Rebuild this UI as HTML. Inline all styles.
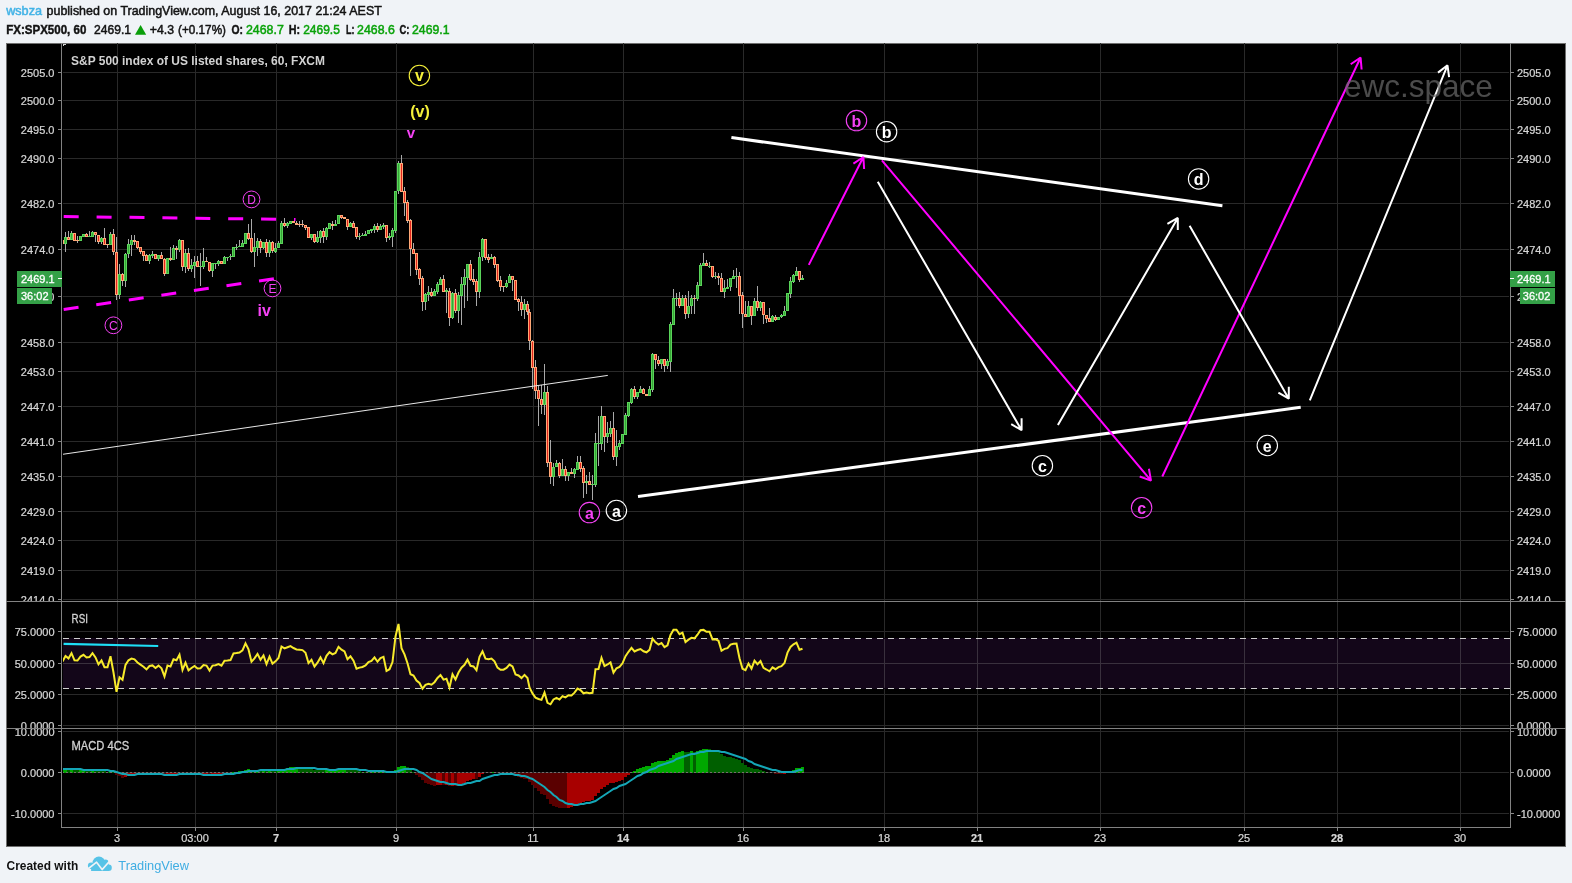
<!DOCTYPE html>
<html><head><meta charset="utf-8"><title>chart</title><style>html,body{margin:0;padding:0;background:#f0f3f7;overflow:hidden}body{width:1572px;height:883px}</style></head><body>
<svg width="1572" height="883" viewBox="0 0 1572 883" style="display:block;will-change:transform;font-family:'Liberation Sans',sans-serif">
<rect width="1572" height="883" fill="#f0f3f7"/>
<defs>
<clipPath id="cm"><rect x="63" y="43" width="1447" height="558"/></clipPath>
<clipPath id="cc"><rect x="63" y="43" width="1447" height="558"/></clipPath>
<clipPath id="cr"><rect x="63" y="602" width="1447" height="126"/></clipPath>
<clipPath id="cd"><rect x="63" y="729" width="1447" height="98"/></clipPath>
<clipPath id="lm"><rect x="6" y="43" width="1560" height="558"/></clipPath>
<clipPath id="lr"><rect x="6" y="602" width="1560" height="126"/></clipPath>
<clipPath id="ld"><rect x="6" y="729" width="1560" height="98"/></clipPath>
</defs>
<text x="6.2" y="15.3" textLength="35.8" lengthAdjust="spacingAndGlyphs" style="font-size:13px" fill="#42b3e6" stroke="#42b3e6" stroke-width="0.5">wsbza</text>
<text x="46.6" y="15.3" textLength="335.2" lengthAdjust="spacingAndGlyphs" style="font-size:13px" fill="#131313" stroke="#131313" stroke-width="0.5">published on TradingView.com, August 16, 2017 21:24 AEST</text>
<text x="6.2" y="33.6" textLength="80.1" lengthAdjust="spacingAndGlyphs" style="font-weight:bold;font-size:13px" fill="#131313" stroke="#131313" stroke-width="0.45">FX:SPX500, 60</text>
<text x="94" y="33.6" textLength="37.0" lengthAdjust="spacingAndGlyphs" style="font-size:13px" fill="#131313" stroke="#131313" stroke-width="0.5">2469.1</text>
<path d="M135 34.8 L140.6 24.9 L146.2 34.8 Z" fill="#0a9e0a"/>
<text x="149.8" y="33.6" textLength="24.2" lengthAdjust="spacingAndGlyphs" style="font-size:13px" fill="#131313" stroke="#131313" stroke-width="0.5">+4.3</text>
<text x="178" y="33.6" textLength="48.0" lengthAdjust="spacingAndGlyphs" style="font-size:13px" fill="#131313" stroke="#131313" stroke-width="0.5">(+0.17%)</text>
<text x="231.5" y="33.6" textLength="11.5" lengthAdjust="spacingAndGlyphs" style="font-weight:bold;font-size:13px" fill="#131313" stroke="#131313" stroke-width="0.45">O:</text>
<text x="246" y="33.6" textLength="37.8" lengthAdjust="spacingAndGlyphs" style="font-size:13px" fill="#0aa30a" stroke="#0aa30a" stroke-width="0.5">2468.7</text>
<text x="288.7" y="33.6" textLength="11.3" lengthAdjust="spacingAndGlyphs" style="font-weight:bold;font-size:13px" fill="#131313" stroke="#131313" stroke-width="0.45">H:</text>
<text x="303.2" y="33.6" textLength="36.6" lengthAdjust="spacingAndGlyphs" style="font-size:13px" fill="#0aa30a" stroke="#0aa30a" stroke-width="0.5">2469.5</text>
<text x="346" y="33.6" textLength="8.4" lengthAdjust="spacingAndGlyphs" style="font-weight:bold;font-size:13px" fill="#131313" stroke="#131313" stroke-width="0.45">L:</text>
<text x="357.1" y="33.6" textLength="37.7" lengthAdjust="spacingAndGlyphs" style="font-size:13px" fill="#0aa30a" stroke="#0aa30a" stroke-width="0.5">2468.6</text>
<text x="399.4" y="33.6" textLength="9.9" lengthAdjust="spacingAndGlyphs" style="font-weight:bold;font-size:13px" fill="#131313" stroke="#131313" stroke-width="0.45">C:</text>
<text x="412" y="33.6" textLength="37.5" lengthAdjust="spacingAndGlyphs" style="font-size:13px" fill="#0aa30a" stroke="#0aa30a" stroke-width="0.5">2469.1</text>
<rect x="6" y="43" width="1560" height="804" fill="#6e6e6e"/>
<rect x="7" y="44" width="1558" height="802" fill="#000"/>
<path d="M63 72.5H1509 M63 100.5H1509 M63 129.5H1509 M63 158.5H1509 M63 203.5H1509 M63 249.5H1509 M63 296.5H1509 M63 342.5H1509 M63 371.5H1509 M63 406.5H1509 M63 441.5H1509 M63 476.5H1509 M63 511.5H1509 M63 540.5H1509 M63 570.5H1509 M63 599.5H1509 M63 631.5H1509 M63 663.5H1509 M63 694.5H1509 M63 725.5H1509 M63 731.5H1509 M63 772.5H1509 M63 813.5H1509 M117.5 43V827 M195.5 43V827 M276.5 43V827 M396.5 43V827 M533.5 43V827 M623.5 43V827 M743.5 43V827 M884.5 43V827 M977.5 43V827 M1100.5 43V827 M1244.5 43V827 M1337.5 43V827 M1460.5 43V827" stroke="#292929" stroke-width="1" fill="none" shape-rendering="crispEdges"/>
<rect x="63" y="638" width="1447" height="51" fill="#130619"/>
<path d="M117.5 639V688 M195.5 639V688 M276.5 639V688 M396.5 639V688 M533.5 639V688 M623.5 639V688 M743.5 639V688 M884.5 639V688 M977.5 639V688 M1100.5 639V688 M1244.5 639V688 M1337.5 639V688 M1460.5 639V688 M63 663.5H1510" stroke="#39303d" stroke-width="1" fill="none" shape-rendering="crispEdges"/>
<path d="M63 638.5H1510M63 688.5H1510" stroke="#cfcfcf" stroke-width="1" stroke-dasharray="6 5" fill="none" shape-rendering="crispEdges"/>
<g clip-path="url(#cc)" shape-rendering="crispEdges">
<path d="M62.5 240V244 M65.5 232V252 M68.5 231V240 M71.5 231V240 M74.5 233V241 M77.5 236V243 M80.5 236V241 M83.5 234V237 M86.5 233V237 M89.5 231V237 M92.5 231V237 M95.5 232V242 M98.5 235V244 M101.5 237V244 M104.5 228V245 M107.5 244V248 M110.5 232V245 M113.5 229V255 M116.5 237V300 M119.5 264V299 M122.5 273V286 M125.5 253V287 M128.5 239V258 M131.5 235V256 M134.5 235V245 M137.5 241V249 M140.5 247V254 M143.5 251V261 M146.5 254V261 M149.5 254V264 M152.5 251V258 M155.5 254V259 M158.5 255V261 M161.5 252V259 M164.5 258V276 M167.5 258V274 M170.5 247V261 M173.5 245V260 M176.5 246V259 M179.5 239V252 M182.5 240V271 M185.5 249V273 M188.5 248V271 M191.5 259V272 M194.5 256V278 M197.5 256V267 M200.5 253V286 M203.5 248V269 M206.5 257V262 M209.5 262V272 M212.5 263V277 M215.5 263V269 M218.5 260V266 M221.5 261V264 M224.5 256V264 M227.5 257V261 M230.5 254V260 M233.5 247V257 M236.5 244V250 M239.5 240V247 M242.5 240V247 M245.5 233V244 M248.5 224V240 M251.5 219V253 M254.5 233V267 M257.5 238V256 M260.5 239V253 M263.5 242V249 M266.5 239V257 M269.5 240V257 M272.5 241V253 M275.5 243V253 M278.5 241V248 M281.5 221V244 M284.5 218V227 M287.5 222V228 M290.5 221V224 M293.5 221V223 M296.5 221V225 M299.5 221V227 M302.5 220V227 M305.5 225V230 M308.5 227V238 M311.5 234V240 M314.5 234V243 M317.5 231V243 M320.5 230V243 M323.5 228V243 M326.5 227V240 M329.5 223V229 M332.5 221V230 M335.5 220V226 M338.5 215V224 M341.5 215V219 M344.5 217V219 M347.5 219V230 M350.5 222V227 M353.5 221V228 M356.5 227V239 M359.5 233V240 M362.5 233V236 M365.5 231V236 M368.5 230V234 M371.5 229V233 M374.5 224V233 M377.5 223V232 M380.5 224V230 M383.5 223V229 M386.5 225V242 M389.5 233V240 M392.5 228V247 M395.5 191V233 M398.5 161V194 M401.5 155V192 M404.5 187V216 M407.5 200V223 M410.5 219V276 M413.5 243V254 M416.5 253V275 M419.5 268V285 M422.5 276V311 M425.5 293V310 M428.5 286V301 M431.5 288V297 M434.5 289V296 M437.5 282V294 M440.5 277V285 M443.5 275V292 M446.5 288V313 M449.5 288V326 M452.5 292V319 M455.5 289V313 M458.5 292V323 M461.5 277V325 M464.5 269V308 M467.5 264V301 M470.5 260V281 M473.5 269V285 M476.5 279V306 M479.5 252V298 M482.5 238V261 M485.5 239V260 M488.5 254V263 M491.5 254V259 M494.5 256V268 M497.5 264V282 M500.5 276V291 M503.5 286V292 M506.5 280V288 M509.5 274V283 M512.5 276V291 M515.5 280V300 M518.5 298V311 M521.5 296V316 M524.5 299V319 M527.5 301V315 M529.5 309V350 M532.5 340V389 M535.5 360V399 M538.5 386V426 M541.5 385V414 M544.5 364V415 M547.5 386V467 M550.5 440V484 M553.5 463V486 M556.5 460V467 M559.5 462V478 M562.5 459V476 M565.5 466V481 M568.5 472V481 M571.5 468V474 M574.5 468V478 M577.5 456V470 M580.5 456V472 M583.5 466V498 M586.5 475V494 M589.5 472V485 M592.5 475V500 M595.5 433V487 M598.5 416V466 M601.5 406V450 M604.5 416V452 M607.5 422V443 M610.5 421V437 M613.5 412V460 M616.5 430V466 M619.5 440V450 M622.5 434V444 M625.5 413V435 M628.5 402V417 M631.5 388V404 M634.5 386V399 M637.5 392V399 M640.5 386V393 M643.5 388V394 M646.5 394V396 M649.5 386V396 M652.5 353V392 M655.5 354V369 M658.5 356V366 M661.5 359V369 M664.5 359V372 M667.5 359V369 M670.5 322V372 M673.5 289V325 M676.5 293V306 M679.5 292V308 M682.5 295V306 M685.5 295V319 M688.5 291V318 M691.5 295V314 M694.5 295V314 M697.5 282V301 M700.5 263V286 M703.5 253V266 M706.5 260V266 M709.5 262V268 M712.5 266V278 M715.5 272V279 M718.5 273V285 M721.5 273V292 M724.5 280V298 M727.5 279V289 M730.5 278V291 M733.5 270V279 M736.5 268V288 M739.5 272V314 M742.5 292V328 M745.5 301V317 M748.5 301V317 M751.5 306V325 M754.5 298V316 M757.5 286V311 M760.5 301V311 M763.5 302V324 M766.5 315V323 M769.5 308V322 M772.5 315V322 M775.5 315V321 M778.5 317V320 M781.5 314V318 M784.5 306V316 M787.5 293V311 M790.5 277V298 M793.5 274V283 M796.5 267V276 M799.5 271V282 M802.5 275V280" stroke="#a9a9a9" stroke-width="1" fill="none"/>
<path d="M64 237h3v7h-3zM70 233h3v7h-3zM79 236h3v5h-3zM82 234h3v3h-3zM88 236h3v1h-3zM91 232h3v5h-3zM100 238h3v4h-3zM109 234h3v11h-3zM118 274h3v21h-3zM124 254h3v27h-3zM127 244h3v10h-3zM130 240h3v5h-3zM148 255h3v6h-3zM151 254h3v2h-3zM157 255h3v4h-3zM166 258h3v16h-3zM172 248h3v12h-3zM178 240h3v10h-3zM184 253h3v14h-3zM190 265h3v4h-3zM193 262h3v4h-3zM199 266h3v1h-3zM202 261h3v6h-3zM211 263h3v8h-3zM214 263h3v1h-3zM217 261h3v3h-3zM223 257h3v7h-3zM226 257h3v1h-3zM229 256h3v1h-3zM232 247h3v10h-3zM235 247h3v1h-3zM238 246h3v1h-3zM241 243h3v4h-3zM244 233h3v11h-3zM253 247h3v5h-3zM256 241h3v7h-3zM262 242h3v6h-3zM268 242h3v11h-3zM274 248h3v4h-3zM277 243h3v5h-3zM280 223h3v21h-3zM286 223h3v3h-3zM289 221h3v3h-3zM310 234h3v4h-3zM316 237h3v5h-3zM319 231h3v7h-3zM325 228h3v9h-3zM328 223h3v6h-3zM334 224h3v2h-3zM337 215h3v9h-3zM349 223h3v4h-3zM358 236h3v1h-3zM361 235h3v1h-3zM364 234h3v2h-3zM367 230h3v4h-3zM370 229h3v2h-3zM373 226h3v4h-3zM379 226h3v4h-3zM382 225h3v2h-3zM388 236h3v2h-3zM391 230h3v7h-3zM394 191h3v40h-3zM397 163h3v28h-3zM424 294h3v8h-3zM427 292h3v3h-3zM433 291h3v5h-3zM436 284h3v8h-3zM439 279h3v6h-3zM445 290h3v2h-3zM451 293h3v25h-3zM457 295h3v16h-3zM460 284h3v12h-3zM463 277h3v8h-3zM466 264h3v14h-3zM478 257h3v35h-3zM481 239h3v18h-3zM490 257h3v2h-3zM505 283h3v4h-3zM508 276h3v7h-3zM523 304h3v6h-3zM543 392h3v13h-3zM552 467h3v10h-3zM555 463h3v4h-3zM561 469h3v7h-3zM567 472h3v4h-3zM573 469h3v5h-3zM576 462h3v8h-3zM585 481h3v2h-3zM591 484h3v1h-3zM594 443h3v42h-3zM597 443h3v1h-3zM600 416h3v28h-3zM606 433h3v4h-3zM609 428h3v6h-3zM615 446h3v11h-3zM618 443h3v4h-3zM621 434h3v10h-3zM624 415h3v20h-3zM627 402h3v14h-3zM630 389h3v14h-3zM636 392h3v5h-3zM639 389h3v4h-3zM648 389h3v7h-3zM651 354h3v36h-3zM660 359h3v5h-3zM666 361h3v5h-3zM669 324h3v38h-3zM672 298h3v27h-3zM675 298h3v1h-3zM681 298h3v8h-3zM687 306h3v8h-3zM690 298h3v8h-3zM696 285h3v14h-3zM699 265h3v21h-3zM702 263h3v3h-3zM708 266h3v1h-3zM714 276h3v1h-3zM723 288h3v4h-3zM726 287h3v2h-3zM729 278h3v9h-3zM732 276h3v3h-3zM735 276h3v1h-3zM747 306h3v11h-3zM753 301h3v15h-3zM759 302h3v6h-3zM771 316h3v6h-3zM777 317h3v3h-3zM780 315h3v2h-3zM783 311h3v5h-3zM786 293h3v18h-3zM789 281h3v13h-3zM792 275h3v7h-3zM795 271h3v5h-3zM801 278h3v2h-3z" fill="#5ad45a"/>
<path d="M65 238h1v5h-1zM71 234h1v5h-1zM80 237h1v3h-1zM83 235h1v1h-1zM92 233h1v3h-1zM101 239h1v2h-1zM110 235h1v9h-1zM119 275h1v19h-1zM125 255h1v25h-1zM128 245h1v8h-1zM131 241h1v3h-1zM149 256h1v4h-1zM158 256h1v2h-1zM167 259h1v14h-1zM173 249h1v10h-1zM179 241h1v8h-1zM185 254h1v12h-1zM191 266h1v2h-1zM194 263h1v2h-1zM203 262h1v4h-1zM212 264h1v6h-1zM218 262h1v1h-1zM224 258h1v5h-1zM233 248h1v8h-1zM242 244h1v2h-1zM245 234h1v9h-1zM254 248h1v3h-1zM257 242h1v5h-1zM263 243h1v4h-1zM269 243h1v9h-1zM275 249h1v2h-1zM278 244h1v3h-1zM281 224h1v19h-1zM287 224h1v1h-1zM290 222h1v1h-1zM311 235h1v2h-1zM317 238h1v3h-1zM320 232h1v5h-1zM326 229h1v7h-1zM329 224h1v4h-1zM338 216h1v7h-1zM350 224h1v2h-1zM368 231h1v2h-1zM374 227h1v2h-1zM380 227h1v2h-1zM392 231h1v5h-1zM395 192h1v38h-1zM398 164h1v26h-1zM425 295h1v6h-1zM428 293h1v1h-1zM434 292h1v3h-1zM437 285h1v6h-1zM440 280h1v4h-1zM452 294h1v23h-1zM458 296h1v14h-1zM461 285h1v10h-1zM464 278h1v6h-1zM467 265h1v12h-1zM479 258h1v33h-1zM482 240h1v16h-1zM506 284h1v2h-1zM509 277h1v5h-1zM524 305h1v4h-1zM544 393h1v11h-1zM553 468h1v8h-1zM556 464h1v2h-1zM562 470h1v5h-1zM568 473h1v2h-1zM574 470h1v3h-1zM577 463h1v6h-1zM595 444h1v40h-1zM601 417h1v26h-1zM607 434h1v2h-1zM610 429h1v4h-1zM616 447h1v9h-1zM619 444h1v2h-1zM622 435h1v8h-1zM625 416h1v18h-1zM628 403h1v12h-1zM631 390h1v12h-1zM637 393h1v3h-1zM640 390h1v2h-1zM649 390h1v5h-1zM652 355h1v34h-1zM661 360h1v3h-1zM667 362h1v3h-1zM670 325h1v36h-1zM673 299h1v25h-1zM682 299h1v6h-1zM688 307h1v6h-1zM691 299h1v6h-1zM697 286h1v12h-1zM700 266h1v19h-1zM703 264h1v1h-1zM724 289h1v2h-1zM730 279h1v7h-1zM733 277h1v1h-1zM748 307h1v9h-1zM754 302h1v13h-1zM760 303h1v4h-1zM772 317h1v4h-1zM778 318h1v1h-1zM784 312h1v3h-1zM787 294h1v16h-1zM790 282h1v11h-1zM793 276h1v5h-1zM796 272h1v3h-1z" fill="#36a636"/>
<path d="M61 240h3v4h-3zM67 237h3v3h-3zM73 233h3v8h-3zM76 240h3v1h-3zM85 234h3v3h-3zM94 232h3v3h-3zM97 235h3v7h-3zM103 238h3v7h-3zM106 244h3v1h-3zM112 234h3v18h-3zM115 252h3v43h-3zM121 274h3v7h-3zM133 240h3v2h-3zM136 241h3v7h-3zM139 247h3v5h-3zM142 251h3v5h-3zM145 255h3v6h-3zM154 254h3v5h-3zM160 255h3v4h-3zM163 259h3v15h-3zM169 258h3v2h-3zM175 248h3v2h-3zM181 240h3v27h-3zM187 253h3v16h-3zM196 261h3v6h-3zM205 261h3v1h-3zM208 262h3v9h-3zM220 261h3v3h-3zM247 233h3v6h-3zM250 238h3v14h-3zM259 241h3v7h-3zM265 242h3v11h-3zM271 242h3v9h-3zM283 223h3v3h-3zM292 221h3v2h-3zM295 223h3v2h-3zM298 224h3v1h-3zM301 224h3v1h-3zM304 225h3v3h-3zM307 227h3v11h-3zM313 234h3v8h-3zM322 231h3v6h-3zM331 224h3v2h-3zM340 215h3v3h-3zM343 217h3v2h-3zM346 219h3v8h-3zM352 223h3v5h-3zM355 227h3v10h-3zM376 226h3v4h-3zM385 225h3v13h-3zM400 163h3v29h-3zM403 191h3v12h-3zM406 202h3v19h-3zM409 220h3v29h-3zM412 249h3v5h-3zM415 253h3v17h-3zM418 269h3v10h-3zM421 278h3v24h-3zM430 292h3v4h-3zM442 279h3v13h-3zM448 291h3v27h-3zM454 293h3v18h-3zM469 264h3v16h-3zM472 279h3v3h-3zM475 281h3v11h-3zM484 239h3v19h-3zM487 257h3v3h-3zM493 257h3v8h-3zM496 264h3v17h-3zM499 280h3v7h-3zM502 286h3v1h-3zM511 276h3v4h-3zM514 280h3v20h-3zM517 299h3v3h-3zM520 302h3v8h-3zM526 304h3v8h-3zM528 312h3v29h-3zM531 341h3v27h-3zM534 367h3v24h-3zM537 390h3v9h-3zM540 399h3v6h-3zM546 392h3v71h-3zM549 462h3v15h-3zM558 463h3v13h-3zM564 469h3v7h-3zM570 472h3v2h-3zM579 462h3v7h-3zM582 468h3v15h-3zM588 481h3v4h-3zM603 416h3v21h-3zM612 428h3v29h-3zM633 389h3v8h-3zM642 389h3v5h-3zM645 394h3v2h-3zM654 354h3v6h-3zM657 360h3v4h-3zM663 359h3v7h-3zM678 298h3v8h-3zM684 298h3v16h-3zM693 298h3v1h-3zM705 263h3v3h-3zM711 266h3v11h-3zM717 276h3v2h-3zM720 278h3v14h-3zM738 276h3v20h-3zM741 295h3v19h-3zM744 314h3v3h-3zM750 306h3v10h-3zM756 301h3v7h-3zM762 302h3v13h-3zM765 315h3v4h-3zM768 318h3v4h-3zM774 317h3v3h-3zM798 271h3v9h-3z" fill="#ffa877"/>
<path d="M62 241h1v2h-1zM68 238h1v1h-1zM74 234h1v6h-1zM86 235h1v1h-1zM95 233h1v1h-1zM98 236h1v5h-1zM104 239h1v5h-1zM113 235h1v16h-1zM116 253h1v41h-1zM122 275h1v5h-1zM137 242h1v5h-1zM140 248h1v3h-1zM143 252h1v3h-1zM146 256h1v4h-1zM155 255h1v3h-1zM161 256h1v2h-1zM164 260h1v13h-1zM182 241h1v25h-1zM188 254h1v14h-1zM197 262h1v4h-1zM209 263h1v7h-1zM221 262h1v1h-1zM248 234h1v4h-1zM251 239h1v12h-1zM260 242h1v5h-1zM266 243h1v9h-1zM272 243h1v7h-1zM284 224h1v1h-1zM305 226h1v1h-1zM308 228h1v9h-1zM314 235h1v6h-1zM323 232h1v4h-1zM341 216h1v1h-1zM347 220h1v6h-1zM353 224h1v3h-1zM356 228h1v8h-1zM377 227h1v2h-1zM386 226h1v11h-1zM401 164h1v27h-1zM404 192h1v10h-1zM407 203h1v17h-1zM410 221h1v27h-1zM413 250h1v3h-1zM416 254h1v15h-1zM419 270h1v8h-1zM422 279h1v22h-1zM431 293h1v2h-1zM443 280h1v11h-1zM449 292h1v25h-1zM455 294h1v16h-1zM470 265h1v14h-1zM473 280h1v1h-1zM476 282h1v9h-1zM485 240h1v17h-1zM488 258h1v1h-1zM494 258h1v6h-1zM497 265h1v15h-1zM500 281h1v5h-1zM512 277h1v2h-1zM515 281h1v18h-1zM518 300h1v1h-1zM521 303h1v6h-1zM527 305h1v6h-1zM529 313h1v27h-1zM532 342h1v25h-1zM535 368h1v22h-1zM538 391h1v7h-1zM541 400h1v4h-1zM547 393h1v69h-1zM550 463h1v13h-1zM559 464h1v11h-1zM565 470h1v5h-1zM580 463h1v5h-1zM583 469h1v13h-1zM589 482h1v2h-1zM604 417h1v19h-1zM613 429h1v27h-1zM634 390h1v6h-1zM643 390h1v3h-1zM655 355h1v4h-1zM658 361h1v2h-1zM664 360h1v5h-1zM679 299h1v6h-1zM685 299h1v14h-1zM706 264h1v1h-1zM712 267h1v9h-1zM721 279h1v12h-1zM739 277h1v18h-1zM742 296h1v17h-1zM745 315h1v1h-1zM751 307h1v8h-1zM757 302h1v5h-1zM763 303h1v11h-1zM766 316h1v2h-1zM769 319h1v2h-1zM775 318h1v1h-1zM799 272h1v7h-1z" fill="#e2241b"/>
</g>
<g clip-path="url(#cm)" fill="none">
<path d="M62 454.4L607.8 375.4" stroke="#e8e8e8" stroke-width="1"/>
<path d="M63.7 216.5L295.5 219.55" stroke="#ff00ff" stroke-width="3" stroke-dasharray="15 17.9"/>
<path d="M63.7 309.4L274.1 278.7" stroke="#ff00ff" stroke-width="3" stroke-dasharray="15 17.9"/>
<path d="M731.4 137.6L1222.4 205.7" stroke="#fff" stroke-width="3"/>
<path d="M638 496.5L1300.7 407.3" stroke="#fff" stroke-width="3"/>
<path d="M808.8 264.9L863.4 157M864.1 169.0L863.4 157L853.4 163.6" stroke="#ff00ff" stroke-width="2" stroke-linejoin="bevel"/>
<path d="M881.9 160.3L1151 480.6M1139.7 476.5L1151 480.6L1148.9 468.8" stroke="#ff00ff" stroke-width="2" stroke-linejoin="bevel"/>
<path d="M1162.3 476.5L1360.6 57.5M1361.6 69.5L1360.6 57.5L1350.7 64.3" stroke="#ff00ff" stroke-width="2" stroke-linejoin="bevel"/>
<path d="M877.8 181.8L1021.6 430.2M1011.2 424.2L1021.6 430.2L1021.6 418.2" stroke="#fff" stroke-width="2" stroke-linejoin="bevel"/>
<path d="M1057.9 425L1177.8 217.9M1177.8 229.9L1177.8 217.9L1167.4 223.9" stroke="#fff" stroke-width="2" stroke-linejoin="bevel"/>
<path d="M1189.6 225.7L1288.8 398.7M1278.4 392.7L1288.8 398.7L1288.8 386.7" stroke="#fff" stroke-width="2" stroke-linejoin="bevel"/>
<path d="M1309.8 400.4L1447.5 65.3M1449.1 77.2L1447.5 65.3L1438.0 72.6" stroke="#fff" stroke-width="2" stroke-linejoin="bevel"/>
</g>
<text x="1344" y="96.7" style="font-size:31.5px" fill="#6b6b6b" fill-opacity="0.7">ewc.space</text>
<circle cx="419.4" cy="75.5" r="10.2" fill="none" stroke="#f5f03a" stroke-width="1.1"/>
<text x="419.4" y="81.4" text-anchor="middle" style="font-weight:bold;font-size:16px" fill="#f5f03a">v</text>
<text x="420" y="116.9" text-anchor="middle" style="font-weight:bold;font-size:16px" fill="#f5f03a">(v)</text>
<text x="410.9" y="137.9" text-anchor="middle" style="font-weight:bold;font-size:15px" fill="#f542f5">v</text>
<text x="264.2" y="315.8" text-anchor="middle" style="font-weight:bold;font-size:16px" fill="#f542f5">iv</text>
<circle cx="251.5" cy="199.4" r="8.4" fill="none" stroke="#f542f5" stroke-width="1.0"/>
<text x="251.5" y="203.70000000000002" text-anchor="middle" style="font-size:12px" fill="#f542f5">D</text>
<circle cx="272.5" cy="288.4" r="8.4" fill="none" stroke="#f542f5" stroke-width="1.0"/>
<text x="272.5" y="292.7" text-anchor="middle" style="font-size:12px" fill="#f542f5">E</text>
<circle cx="113.4" cy="325.3" r="8.4" fill="none" stroke="#f542f5" stroke-width="1.0"/>
<text x="113.4" y="329.6" text-anchor="middle" style="font-size:12px" fill="#f542f5">C</text>
<circle cx="589.4" cy="512.6" r="10.2" fill="none" stroke="#f542f5" stroke-width="1.1"/>
<text x="589.4" y="518.6" text-anchor="middle" style="font-weight:bold;font-size:16px" fill="#f542f5">a</text>
<circle cx="616.4" cy="510.5" r="10.2" fill="none" stroke="#fff" stroke-width="1.1"/>
<text x="616.4" y="516.5" text-anchor="middle" style="font-weight:bold;font-size:16px" fill="#fff">a</text>
<circle cx="856.5" cy="120.6" r="10.2" fill="none" stroke="#f542f5" stroke-width="1.1"/>
<text x="856.5" y="126.69999999999999" text-anchor="middle" style="font-weight:bold;font-size:16px" fill="#f542f5">b</text>
<circle cx="886.6" cy="131.7" r="10.2" fill="none" stroke="#fff" stroke-width="1.1"/>
<text x="886.6" y="137.79999999999998" text-anchor="middle" style="font-weight:bold;font-size:16px" fill="#fff">b</text>
<circle cx="1042.4" cy="465.7" r="10.2" fill="none" stroke="#fff" stroke-width="1.1"/>
<text x="1042.4" y="471.7" text-anchor="middle" style="font-weight:bold;font-size:16px" fill="#fff">c</text>
<circle cx="1141.6" cy="507.7" r="10.2" fill="none" stroke="#f542f5" stroke-width="1.1"/>
<text x="1141.6" y="513.7" text-anchor="middle" style="font-weight:bold;font-size:16px" fill="#f542f5">c</text>
<circle cx="1198.6" cy="178.9" r="10.2" fill="none" stroke="#fff" stroke-width="1.1"/>
<text x="1198.6" y="185.0" text-anchor="middle" style="font-weight:bold;font-size:16px" fill="#fff">d</text>
<circle cx="1267.3" cy="445.5" r="10.2" fill="none" stroke="#fff" stroke-width="1.1"/>
<text x="1267.3" y="451.5" text-anchor="middle" style="font-weight:bold;font-size:16px" fill="#fff">e</text>
<text x="71" y="65.4" textLength="254.0" lengthAdjust="spacingAndGlyphs" style="font-weight:bold;font-size:12.6px" fill="#d2d2d2" stroke="#d2d2d2" stroke-width="0">S&amp;P 500 index of US listed shares, 60, FXCM</text>
<text x="71.6" y="622.7" textLength="16.4" lengthAdjust="spacingAndGlyphs" style="font-size:12px" fill="#d2d2d2" stroke="#d2d2d2" stroke-width="0.3">RSI</text>
<text x="71.5" y="749.8" textLength="57.7" lengthAdjust="spacingAndGlyphs" style="font-size:12px" fill="#d2d2d2" stroke="#d2d2d2" stroke-width="0.3">MACD 4CS</text>
<g clip-path="url(#cr)" fill="none">
<polyline points="62.5,661.4 65.5,656.0 68.5,658.4 71.5,653.2 74.5,660.3 77.5,660.5 80.5,656.6 83.5,654.8 86.5,657.5 89.5,657.0 92.5,653.2 95.5,657.4 98.5,664.3 101.5,660.5 104.5,667.2 107.5,667.3 110.5,656.2 113.5,672.5 116.5,691.9 119.5,677.3 122.5,679.8 125.5,664.9 128.5,660.3 131.5,658.6 134.5,659.4 137.5,662.5 140.5,664.6 143.5,666.7 146.5,669.4 149.5,666.0 152.5,665.4 155.5,668.0 158.5,665.6 161.5,668.3 164.5,676.4 167.5,665.6 170.5,666.5 173.5,659.3 176.5,660.2 179.5,654.6 182.5,670.0 185.5,662.7 188.5,670.3 191.5,668.0 194.5,665.9 197.5,668.4 200.5,668.2 203.5,665.1 206.5,665.6 209.5,670.6 212.5,665.6 215.5,665.3 218.5,664.1 221.5,665.7 224.5,660.8 227.5,660.6 230.5,660.1 233.5,653.4 236.5,653.1 239.5,652.6 242.5,650.4 245.5,643.3 248.5,649.4 251.5,661.7 254.5,658.4 257.5,653.9 260.5,659.7 263.5,655.4 266.5,664.1 269.5,656.6 272.5,663.6 275.5,661.3 278.5,658.0 281.5,646.5 284.5,648.4 287.5,647.2 290.5,646.1 293.5,648.0 296.5,649.4 299.5,649.7 302.5,650.1 305.5,652.7 308.5,663.1 311.5,659.8 314.5,666.6 317.5,662.7 320.5,657.4 323.5,663.1 326.5,655.8 329.5,652.1 332.5,654.4 335.5,652.9 338.5,646.8 341.5,649.7 344.5,651.5 347.5,659.3 350.5,656.4 353.5,660.6 356.5,668.8 359.5,667.6 362.5,667.0 365.5,665.5 368.5,662.1 371.5,660.8 374.5,657.4 377.5,661.7 380.5,658.1 383.5,656.8 386.5,671.0 389.5,669.2 392.5,662.1 395.5,636.4 398.5,623.9 401.5,648.1 404.5,654.4 407.5,663.3 410.5,674.2 413.5,675.5 416.5,680.5 419.5,683.0 422.5,688.7 425.5,684.9 428.5,683.8 431.5,684.7 434.5,682.2 437.5,678.0 440.5,675.0 443.5,679.6 446.5,678.7 449.5,687.5 452.5,674.2 455.5,679.5 458.5,672.5 461.5,667.7 464.5,664.8 467.5,659.7 470.5,665.8 473.5,666.4 476.5,670.2 479.5,656.8 482.5,651.3 485.5,658.6 488.5,659.3 491.5,658.5 494.5,661.4 497.5,667.6 500.5,669.7 503.5,669.7 506.5,667.9 509.5,664.6 512.5,666.5 515.5,674.4 518.5,675.5 521.5,678.1 524.5,674.9 527.5,678.0 529.5,687.4 532.5,693.4 535.5,697.6 538.5,699.0 541.5,699.9 544.5,692.6 547.5,702.9 550.5,704.3 553.5,699.4 556.5,697.8 559.5,699.5 562.5,696.2 565.5,697.4 568.5,695.2 571.5,695.4 574.5,692.7 577.5,688.6 580.5,690.1 583.5,693.3 586.5,692.5 589.5,693.3 592.5,692.8 595.5,669.2 598.5,669.0 601.5,657.9 604.5,666.1 607.5,664.5 610.5,662.4 613.5,672.6 616.5,668.3 619.5,667.0 622.5,663.3 625.5,656.2 628.5,651.8 631.5,647.9 634.5,651.4 637.5,650.0 640.5,649.0 643.5,651.3 646.5,652.3 649.5,649.9 652.5,638.7 655.5,642.3 658.5,644.6 661.5,643.0 664.5,647.2 667.5,645.4 670.5,635.0 673.5,629.8 676.5,629.7 679.5,634.2 682.5,632.6 685.5,642.0 688.5,639.6 691.5,637.8 694.5,638.3 697.5,634.7 700.5,630.2 703.5,629.8 706.5,631.8 709.5,631.7 712.5,639.4 715.5,639.2 718.5,640.8 721.5,650.8 724.5,648.9 727.5,648.2 730.5,644.6 733.5,643.7 736.5,643.5 739.5,658.2 742.5,668.7 745.5,670.1 748.5,663.6 751.5,668.6 754.5,660.6 757.5,664.2 760.5,661.1 763.5,667.9 766.5,669.5 769.5,671.3 772.5,667.4 775.5,669.2 778.5,667.1 781.5,666.2 784.5,663.0 787.5,652.6 790.5,647.0 793.5,644.3 796.5,642.6 799.5,649.8 802.5,648.7" stroke="#f7ea2b" stroke-width="2" stroke-linejoin="miter"/>
<path d="M63.6 643.8L158.2 646" stroke="#1edff7" stroke-width="2.2"/>
</g>
<g clip-path="url(#cd)">
<path d="M61 769.9h3V772.5h-3zM64 769.8h3V772.5h-3zM70 769.5h3V772.5h-3zM79 769.9h3V772.5h-3zM82 769.8h3V772.5h-3zM91 769.8h3V772.5h-3zM109 771.2h3V772.5h-3zM232 772.4h3V772.5h-3zM235 771.7h3V772.5h-3zM238 771.2h3V772.5h-3zM241 770.7h3V772.5h-3zM244 769.7h3V772.5h-3zM247 769.2h3V772.5h-3zM256 769.6h3V772.5h-3zM262 769.7h3V772.5h-3zM268 770.1h3V772.5h-3zM277 770.6h3V772.5h-3zM280 769.4h3V772.5h-3zM283 768.6h3V772.5h-3zM286 767.9h3V772.5h-3zM289 767.3h3V772.5h-3zM292 767.0h3V772.5h-3zM295 766.9h3V772.5h-3zM325 770.3h3V772.5h-3zM328 769.9h3V772.5h-3zM331 769.7h3V772.5h-3zM334 769.5h3V772.5h-3zM337 768.9h3V772.5h-3zM340 768.6h3V772.5h-3zM343 768.6h3V772.5h-3zM370 771.9h3V772.5h-3zM373 771.7h3V772.5h-3zM379 771.7h3V772.5h-3zM382 771.5h3V772.5h-3zM391 772.5h3V772.5h-3zM394 770.2h3V772.5h-3zM397 766.9h3V772.5h-3zM400 766.0h3V772.5h-3zM403 765.9h3V772.5h-3zM490 771.9h3V772.5h-3zM493 771.7h3V772.5h-3zM630 772.2h3V772.5h-3zM633 770.5h3V772.5h-3zM636 769.0h3V772.5h-3zM639 767.6h3V772.5h-3zM642 766.9h3V772.5h-3zM645 766.4h3V772.5h-3zM648 765.8h3V772.5h-3zM651 763.4h3V772.5h-3zM654 762.0h3V772.5h-3zM657 761.3h3V772.5h-3zM660 760.5h3V772.5h-3zM663 760.5h3V772.5h-3zM666 760.3h3V772.5h-3zM669 758.2h3V772.5h-3zM672 755.2h3V772.5h-3zM675 753.1h3V772.5h-3zM678 752.1h3V772.5h-3zM681 751.1h3V772.5h-3zM690 751.4h3V772.5h-3zM696 751.2h3V772.5h-3zM699 749.9h3V772.5h-3zM702 749.2h3V772.5h-3zM705 749.0h3V772.5h-3zM789 771.1h3V772.5h-3zM792 769.5h3V772.5h-3zM795 768.1h3V772.5h-3zM798 767.6h3V772.5h-3zM801 767.1h3V772.5h-3z" fill="#00a800" shape-rendering="crispEdges"/>
<path d="M67 769.8h3V772.5h-3zM73 769.8h3V772.5h-3zM76 770.0h3V772.5h-3zM85 769.9h3V772.5h-3zM88 769.9h3V772.5h-3zM94 769.9h3V772.5h-3zM97 770.3h3V772.5h-3zM100 770.5h3V772.5h-3zM103 771.0h3V772.5h-3zM106 771.5h3V772.5h-3zM112 772.1h3V772.5h-3zM250 769.6h3V772.5h-3zM253 769.8h3V772.5h-3zM259 769.8h3V772.5h-3zM265 770.2h3V772.5h-3zM271 770.5h3V772.5h-3zM274 770.7h3V772.5h-3zM298 766.9h3V772.5h-3zM301 767.0h3V772.5h-3zM304 767.3h3V772.5h-3zM307 768.1h3V772.5h-3zM310 768.6h3V772.5h-3zM313 769.5h3V772.5h-3zM316 770.0h3V772.5h-3zM319 770.0h3V772.5h-3zM322 770.4h3V772.5h-3zM346 769.0h3V772.5h-3zM349 769.1h3V772.5h-3zM352 769.5h3V772.5h-3zM355 770.4h3V772.5h-3zM358 771.0h3V772.5h-3zM361 771.5h3V772.5h-3zM364 771.8h3V772.5h-3zM367 771.9h3V772.5h-3zM376 771.8h3V772.5h-3zM385 772.1h3V772.5h-3zM406 767.0h3V772.5h-3zM409 769.6h3V772.5h-3zM412 771.8h3V772.5h-3zM684 751.5h3V772.5h-3zM687 751.5h3V772.5h-3zM693 751.6h3V772.5h-3zM708 749.1h3V772.5h-3zM711 750.0h3V772.5h-3zM714 751.0h3V772.5h-3zM717 752.1h3V772.5h-3zM720 754.0h3V772.5h-3zM723 755.5h3V772.5h-3zM726 756.7h3V772.5h-3zM729 757.4h3V772.5h-3zM732 758.0h3V772.5h-3zM735 758.6h3V772.5h-3zM738 760.4h3V772.5h-3zM741 763.0h3V772.5h-3zM744 765.3h3V772.5h-3zM747 766.5h3V772.5h-3zM750 768.1h3V772.5h-3zM753 768.6h3V772.5h-3zM756 769.4h3V772.5h-3zM759 769.7h3V772.5h-3zM762 770.8h3V772.5h-3zM765 771.8h3V772.5h-3z" fill="#005f00" shape-rendering="crispEdges"/>
<path d="M115 772.5h3V775.2h-3zM118 772.5h3V776.4h-3zM121 772.5h3V777.7h-3zM142 772.5h3V774.0h-3zM145 772.5h3V774.4h-3zM148 772.5h3V774.4h-3zM154 772.5h3V774.5h-3zM160 772.5h3V774.6h-3zM163 772.5h3V775.5h-3zM181 772.5h3V773.6h-3zM187 772.5h3V774.1h-3zM190 772.5h3V774.5h-3zM193 772.5h3V774.5h-3zM196 772.5h3V774.8h-3zM199 772.5h3V775.0h-3zM208 772.5h3V775.1h-3zM388 772.5h3V772.5h-3zM415 772.5h3V774.5h-3zM418 772.5h3V777.1h-3zM421 772.5h3V780.4h-3zM424 772.5h3V782.5h-3zM427 772.5h3V783.9h-3zM430 772.5h3V785.0h-3zM433 772.5h3V785.6h-3zM442 772.5h3V785.0h-3zM448 772.5h3V786.2h-3zM454 772.5h3V786.1h-3zM475 772.5h3V779.1h-3zM496 772.5h3V772.6h-3zM499 772.5h3V773.5h-3zM502 772.5h3V774.3h-3zM505 772.5h3V774.7h-3zM511 772.5h3V774.7h-3zM514 772.5h3V775.8h-3zM517 772.5h3V776.8h-3zM520 772.5h3V778.0h-3zM523 772.5h3V778.5h-3zM526 772.5h3V779.3h-3zM528 772.5h3V781.6h-3zM531 772.5h3V784.7h-3zM534 772.5h3V788.2h-3zM537 772.5h3V791.4h-3zM540 772.5h3V793.9h-3zM543 772.5h3V794.9h-3zM546 772.5h3V799.4h-3zM549 772.5h3V803.5h-3zM552 772.5h3V805.7h-3zM555 772.5h3V806.9h-3zM558 772.5h3V808.1h-3zM561 772.5h3V808.3h-3zM564 772.5h3V808.4h-3zM768 772.5h3V772.8h-3zM771 772.5h3V773.2h-3zM774 772.5h3V773.8h-3zM777 772.5h3V774.0h-3zM780 772.5h3V774.1h-3z" fill="#5a0000" shape-rendering="crispEdges"/>
<path d="M124 772.5h3V777.1h-3zM127 772.5h3V776.1h-3zM130 772.5h3V775.0h-3zM133 772.5h3V774.2h-3zM136 772.5h3V773.9h-3zM139 772.5h3V773.8h-3zM151 772.5h3V774.3h-3zM157 772.5h3V774.4h-3zM166 772.5h3V775.3h-3zM169 772.5h3V775.2h-3zM172 772.5h3V774.4h-3zM175 772.5h3V773.8h-3zM178 772.5h3V772.9h-3zM184 772.5h3V773.4h-3zM202 772.5h3V774.8h-3zM205 772.5h3V774.7h-3zM211 772.5h3V774.9h-3zM214 772.5h3V774.7h-3zM217 772.5h3V774.5h-3zM220 772.5h3V774.4h-3zM223 772.5h3V773.9h-3zM226 772.5h3V773.5h-3zM229 772.5h3V773.2h-3zM436 772.5h3V785.4h-3zM439 772.5h3V784.9h-3zM445 772.5h3V784.9h-3zM451 772.5h3V785.7h-3zM457 772.5h3V785.5h-3zM460 772.5h3V784.2h-3zM463 772.5h3V782.6h-3zM466 772.5h3V780.5h-3zM469 772.5h3V779.7h-3zM472 772.5h3V779.1h-3zM478 772.5h3V777.0h-3zM481 772.5h3V774.4h-3zM484 772.5h3V773.3h-3zM487 772.5h3V772.6h-3zM508 772.5h3V774.5h-3zM567 772.5h3V807.9h-3zM570 772.5h3V807.2h-3zM573 772.5h3V806.0h-3zM576 772.5h3V804.2h-3zM579 772.5h3V802.9h-3zM582 772.5h3V802.2h-3zM585 772.5h3V801.3h-3zM588 772.5h3V800.5h-3zM591 772.5h3V799.5h-3zM594 772.5h3V796.1h-3zM597 772.5h3V793.1h-3zM600 772.5h3V789.1h-3zM603 772.5h3V786.9h-3zM606 772.5h3V784.8h-3zM609 772.5h3V782.8h-3zM612 772.5h3V782.6h-3zM615 772.5h3V781.8h-3zM618 772.5h3V780.9h-3zM621 772.5h3V779.6h-3zM624 772.5h3V777.4h-3zM627 772.5h3V774.9h-3zM783 772.5h3V773.9h-3zM786 772.5h3V772.7h-3z" fill="#a80000" shape-rendering="crispEdges"/>
<path d="M62 772.5H805" stroke="#756c6c" stroke-width="1" stroke-dasharray="2 2" shape-rendering="crispEdges"/>
<polyline points="62.5,769 65.5,769 68.5,769 71.5,769 74.5,769 77.5,769 80.5,769 83.5,770 86.5,770 89.5,770 92.5,770 95.5,770 98.5,770 101.5,770 104.5,770 107.5,770 110.5,771 113.5,771 116.5,772 119.5,773 122.5,774 125.5,774 128.5,775 131.5,775 134.5,775 137.5,774 140.5,774 143.5,774 146.5,774 149.5,774 152.5,774 155.5,774 158.5,774 161.5,774 164.5,775 167.5,775 170.5,775 173.5,775 176.5,775 179.5,774 182.5,774 185.5,774 188.5,774 191.5,774 194.5,774 197.5,774 200.5,774 203.5,775 206.5,775 209.5,775 212.5,775 215.5,775 218.5,775 221.5,775 224.5,774 227.5,774 230.5,774 233.5,774 236.5,773 239.5,773 242.5,772 245.5,772 248.5,771 251.5,771 254.5,771 257.5,771 260.5,770 263.5,770 266.5,770 269.5,770 272.5,770 275.5,770 278.5,770 281.5,770 284.5,770 287.5,769 290.5,769 293.5,769 296.5,768 299.5,768 302.5,768 305.5,768 308.5,768 311.5,768 314.5,768 317.5,769 320.5,769 323.5,769 326.5,769 329.5,770 332.5,770 335.5,770 338.5,769 341.5,769 344.5,769 347.5,769 350.5,769 353.5,769 356.5,769 359.5,770 362.5,770 365.5,770 368.5,771 371.5,771 374.5,771 377.5,771 380.5,771 383.5,771 386.5,772 389.5,772 392.5,772 395.5,772 398.5,771 401.5,770 404.5,769 407.5,769 410.5,769 413.5,769 416.5,770 419.5,772 422.5,773 425.5,775 428.5,777 431.5,779 434.5,780 437.5,781 440.5,782 443.5,782 446.5,783 449.5,784 452.5,784 455.5,784 458.5,785 461.5,785 464.5,784 467.5,783 470.5,783 473.5,782 476.5,781 479.5,781 482.5,779 485.5,778 488.5,777 491.5,776 494.5,775 497.5,775 500.5,774 503.5,774 506.5,774 509.5,774 512.5,774 515.5,775 518.5,775 521.5,776 524.5,776 527.5,777 529.5,778 532.5,779 535.5,781 538.5,783 541.5,785 544.5,787 547.5,790 550.5,792 553.5,795 556.5,797 559.5,800 562.5,801 565.5,803 568.5,804 571.5,804 574.5,805 577.5,805 580.5,804 583.5,804 586.5,803 589.5,803 592.5,802 595.5,801 598.5,799 601.5,797 604.5,795 607.5,793 610.5,791 613.5,789 616.5,788 619.5,786 622.5,785 625.5,784 628.5,782 631.5,780 634.5,778 637.5,776 640.5,775 643.5,773 646.5,772 649.5,770 652.5,769 655.5,768 658.5,766 661.5,765 664.5,764 667.5,763 670.5,762 673.5,761 676.5,759 679.5,758 682.5,757 685.5,756 688.5,755 691.5,754 694.5,754 697.5,753 700.5,752 703.5,752 706.5,751 709.5,751 712.5,751 715.5,751 718.5,751 721.5,752 724.5,752 727.5,753 730.5,754 733.5,755 736.5,756 739.5,757 742.5,758 745.5,759 748.5,761 751.5,762 754.5,764 757.5,765 760.5,766 763.5,767 766.5,768 769.5,769 772.5,770 775.5,770 778.5,771 781.5,772 784.5,772 787.5,772 790.5,772 793.5,772 796.5,771 799.5,770 802.5,770" stroke="#14a6b6" stroke-width="2" fill="none"/>
</g>
<path d="M61.5 43V828 M1510.5 43V828 M6 601.5H1566 M6 728.5H1566 M61.0 827.5H1511.0" stroke="#828282" stroke-width="1" fill="none" shape-rendering="crispEdges"/>
<path d="M58 72.5H61M1511 72.5H1514 M58 100.5H61M1511 100.5H1514 M58 129.5H61M1511 129.5H1514 M58 158.5H61M1511 158.5H1514 M58 203.5H61M1511 203.5H1514 M58 249.5H61M1511 249.5H1514 M58 296.5H61M1511 296.5H1514 M58 342.5H61M1511 342.5H1514 M58 371.5H61M1511 371.5H1514 M58 406.5H61M1511 406.5H1514 M58 441.5H61M1511 441.5H1514 M58 476.5H61M1511 476.5H1514 M58 511.5H61M1511 511.5H1514 M58 540.5H61M1511 540.5H1514 M58 570.5H61M1511 570.5H1514 M58 599.5H61M1511 599.5H1514 M58 631.5H61M1511 631.5H1514 M58 663.5H61M1511 663.5H1514 M58 694.5H61M1511 694.5H1514 M58 725.5H61M1511 725.5H1514 M58 731.5H61M1511 731.5H1514 M58 772.5H61M1511 772.5H1514 M58 813.5H61M1511 813.5H1514 M117.5 828V831 M195.5 828V831 M276.5 828V831 M396.5 828V831 M533.5 828V831 M623.5 828V831 M743.5 828V831 M884.5 828V831 M977.5 828V831 M1100.5 828V831 M1244.5 828V831 M1337.5 828V831 M1460.5 828V831" stroke="#8a8a8a" stroke-width="1" fill="none" shape-rendering="crispEdges"/>
<path d="M63 44.5H66M63 45.5H64" stroke="#cfcfcf" stroke-width="1" shape-rendering="crispEdges"/>
<g clip-path="url(#lm)" style="font-size:11px" fill="#d6d6d6" stroke="#d6d6d6" stroke-width="0.22">
<text x="54.5" y="77.3" text-anchor="end">2505.0</text>
<text x="1517" y="77.3">2505.0</text>
<text x="54.5" y="105.3" text-anchor="end">2500.0</text>
<text x="1517" y="105.3">2500.0</text>
<text x="54.5" y="134.3" text-anchor="end">2495.0</text>
<text x="1517" y="134.3">2495.0</text>
<text x="54.5" y="163.3" text-anchor="end">2490.0</text>
<text x="1517" y="163.3">2490.0</text>
<text x="54.5" y="208.3" text-anchor="end">2482.0</text>
<text x="1517" y="208.3">2482.0</text>
<text x="54.5" y="254.3" text-anchor="end">2474.0</text>
<text x="1517" y="254.3">2474.0</text>
<text x="54.5" y="301.3" text-anchor="end">2466.0</text>
<text x="1517" y="301.3">2466.0</text>
<text x="54.5" y="347.3" text-anchor="end">2458.0</text>
<text x="1517" y="347.3">2458.0</text>
<text x="54.5" y="376.3" text-anchor="end">2453.0</text>
<text x="1517" y="376.3">2453.0</text>
<text x="54.5" y="411.3" text-anchor="end">2447.0</text>
<text x="1517" y="411.3">2447.0</text>
<text x="54.5" y="446.3" text-anchor="end">2441.0</text>
<text x="1517" y="446.3">2441.0</text>
<text x="54.5" y="481.3" text-anchor="end">2435.0</text>
<text x="1517" y="481.3">2435.0</text>
<text x="54.5" y="516.3" text-anchor="end">2429.0</text>
<text x="1517" y="516.3">2429.0</text>
<text x="54.5" y="545.3" text-anchor="end">2424.0</text>
<text x="1517" y="545.3">2424.0</text>
<text x="54.5" y="575.3" text-anchor="end">2419.0</text>
<text x="1517" y="575.3">2419.0</text>
<text x="54.5" y="604.3" text-anchor="end">2414.0</text>
<text x="1517" y="604.3">2414.0</text>
</g>
<g clip-path="url(#lr)" style="font-size:11px" fill="#d6d6d6" stroke="#d6d6d6" stroke-width="0.22">
<text x="54.5" y="636.3" text-anchor="end">75.0000</text>
<text x="1517" y="636.3">75.0000</text>
<text x="54.5" y="668.3" text-anchor="end">50.0000</text>
<text x="1517" y="668.3">50.0000</text>
<text x="54.5" y="699.3" text-anchor="end">25.0000</text>
<text x="1517" y="699.3">25.0000</text>
<text x="54.5" y="730.3" text-anchor="end">0.0000</text>
<text x="1517" y="730.3">0.0000</text>
</g>
<g clip-path="url(#ld)" style="font-size:11px" fill="#d6d6d6" stroke="#d6d6d6" stroke-width="0.22">
<text x="54.5" y="736.3" text-anchor="end">10.0000</text>
<text x="1517" y="736.3">10.0000</text>
<text x="54.5" y="777.3" text-anchor="end">0.0000</text>
<text x="1517" y="777.3">0.0000</text>
<text x="54.5" y="818.3" text-anchor="end">-10.0000</text>
<text x="1517" y="818.3">-10.0000</text>
</g>
<g style="font-size:11px" fill="#d6d6d6" stroke="#d6d6d6" stroke-width="0.22" text-anchor="middle">
<text x="117" y="842">3</text>
<text x="195" y="842">03:00</text>
<text x="276" y="842" style="font-weight:bold">7</text>
<text x="396" y="842">9</text>
<text x="533" y="842">11</text>
<text x="623" y="842" style="font-weight:bold">14</text>
<text x="743" y="842">16</text>
<text x="884" y="842">18</text>
<text x="977" y="842" style="font-weight:bold">21</text>
<text x="1100" y="842">23</text>
<text x="1244" y="842">25</text>
<text x="1337" y="842" style="font-weight:bold">28</text>
<text x="1460" y="842">30</text>
</g>
<rect x="17" y="271" width="45" height="16" fill="#34a047"/><rect x="17" y="288" width="35" height="16" fill="#34a047"/>
<rect x="1510" y="271" width="45" height="16" fill="#34a047"/><rect x="1520" y="288" width="35" height="16" fill="#34a047"/>
<path d="M58 278.5H62M1510 278.5H1514" stroke="#fff" stroke-width="1" shape-rendering="crispEdges"/>
<g style="font-size:11px" fill="#fff" stroke="#fff" stroke-width="0.3">
<text x="21" y="283">2469.1</text><text x="21" y="300">36:02</text>
<text x="1517" y="283">2469.1</text><text x="1522.8" y="300">36:02</text>
</g>
<text x="6.6" y="869.9" textLength="71.6" lengthAdjust="spacingAndGlyphs" style="font-weight:bold;font-size:13.5px" fill="#111">Created with</text>
<g fill="#57c3e7"><circle cx="91.1" cy="865.8" r="3.2"/><circle cx="98.9" cy="863" r="6.4"/><circle cx="105.5" cy="862.4" r="3.0"/><circle cx="108.6" cy="867.8" r="3.2"/><rect x="91.1" y="864" width="17.5" height="7"/></g>
<path d="M86.6 870.0L96.6 862.2L102.1 869.6L110.4 860.2" stroke="#f0f3f7" stroke-width="1.6" fill="none" stroke-linejoin="round"/>
<text x="118.3" y="869.9" textLength="70.6" lengthAdjust="spacingAndGlyphs" style="font-size:13.5px" fill="#3fade2">TradingView</text>
</svg>
</body></html>
